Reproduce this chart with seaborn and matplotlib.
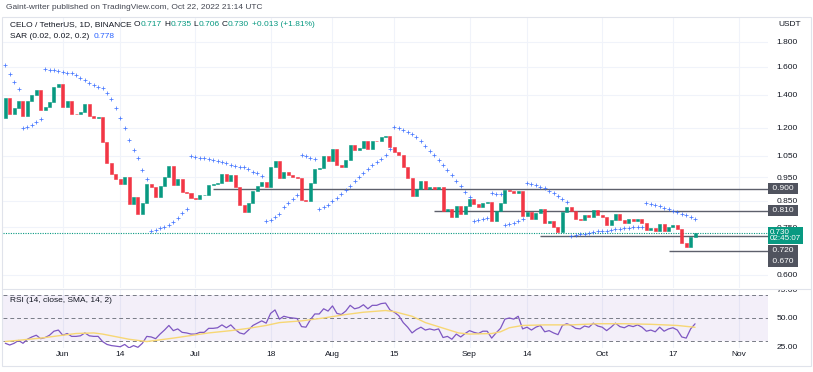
import matplotlib
matplotlib.use("Agg")
import numpy as np
import pandas as pd
import matplotlib.pyplot as plt
import matplotlib.dates as mdates
from matplotlib.ticker import NullLocator
from matplotlib.patches import Rectangle
from matplotlib.lines import Line2D
from matplotlib.transforms import Bbox, TransformedBbox
import seaborn as sns

# CELO / USDT daily, 2022-05-19 .. 2022-10-22
start_day = "2022-05-19"
first_open = 1.256
closes = [
    1.380, 1.280, 1.316, 1.361, 1.268, 1.361, 1.400, 1.433, 1.304, 1.322,
    1.354, 1.454, 1.475, 1.322, 1.361, 1.280, 1.277, 1.292, 1.341, 1.268,
    1.256, 1.259, 1.122, 1.016, 0.965, 0.942, 0.920, 0.951, 0.837, 0.865,
    0.799, 0.841, 0.920, 0.907, 0.865, 0.911, 0.951, 1.001, 0.916, 0.942,
    0.886, 0.882, 0.861, 0.857, 0.873, 0.875, 0.916, 0.918, 0.924, 0.965,
    0.933, 0.960, 0.907, 0.833, 0.806, 0.841, 0.890, 0.911, 0.929, 0.907,
    0.997, 1.025, 0.946, 0.974, 0.960, 0.951, 0.946, 0.853, 0.849, 0.924,
    0.988, 0.990, 1.050, 1.025, 1.085, 1.006, 0.997, 1.030, 1.106, 1.080,
    1.090, 1.127, 1.085, 1.127, 1.124, 1.148, 1.154, 1.095, 1.070, 1.055,
    0.997, 0.946, 0.869, 0.898, 0.933, 0.898, 0.907, 0.898, 0.907, 0.810,
    0.818, 0.788, 0.829, 0.799, 0.829, 0.857, 0.837, 0.825, 0.841, 0.843,
    0.772, 0.810, 0.841, 0.894, 0.888, 0.882, 0.890, 0.791, 0.806, 0.780,
    0.802, 0.818, 0.765, 0.772, 0.751, 0.734, 0.806, 0.825, 0.810, 0.780,
    0.776, 0.795, 0.788, 0.814, 0.795, 0.788, 0.758, 0.776, 0.799, 0.776,
    0.765, 0.780, 0.772, 0.780, 0.765, 0.741, 0.748, 0.737, 0.762, 0.737,
    0.751, 0.758, 0.744, 0.696, 0.684, 0.717, 0.730,
]
sar = [
    1.613, 1.543, 1.490, 1.442, 1.200, 1.204, 1.215, 1.231, 1.250, 1.582,
    1.577, 1.573, 1.568, 1.560, 1.555, 1.551, 1.538, 1.519, 1.502, 1.484,
    1.468, 1.454, 1.445, 1.413, 1.374, 1.319, 1.254, 1.196, 1.132, 1.080,
    1.039, 0.983, 0.942, 0.735, 0.741, 0.746, 0.752, 0.759, 0.769, 0.783,
    0.801, 0.818, 1.050, 1.046, 1.041, 1.039, 1.034, 1.029, 1.024, 1.019,
    1.014, 1.008, 1.003, 0.998, 0.995, 0.989, 0.975, 0.968, 0.955, 0.773,
    0.776, 0.786, 0.799, 0.824, 0.842, 0.858, 0.872, 1.056, 1.051, 1.041,
    1.035, 0.816, 0.824, 0.833, 0.848, 0.862, 0.878, 0.894, 0.911, 0.934,
    0.952, 0.970, 0.986, 1.005, 1.021, 1.037, 1.053, 1.084, 1.202, 1.196,
    1.187, 1.178, 1.165, 1.146, 1.124, 1.101, 1.075, 1.052, 1.030, 1.006,
    0.983, 0.958, 0.933, 0.909, 0.886, 0.866, 0.773, 0.776, 0.780, 0.782,
    0.880, 0.879, 0.877, 0.757, 0.762, 0.766, 0.774, 0.781, 0.926, 0.920,
    0.914, 0.908, 0.903, 0.891, 0.880, 0.869, 0.856, 0.843, 0.721, 0.723,
    0.726, 0.728, 0.731, 0.734, 0.735, 0.736, 0.738, 0.741, 0.743, 0.745,
    0.746, 0.748, 0.750, 0.751, 0.752, 0.840, 0.837, 0.833, 0.827, 0.821,
    0.816, 0.810, 0.804, 0.799, 0.793, 0.787, 0.778,
]
rsi = [
    28, 26.5, 28, 30.5, 28, 31.5, 33.5, 35, 32, 33,
    35, 38.5, 39.5, 35, 36.5, 34, 34, 34.5, 37, 34.5,
    34, 34, 29.5, 27, 26, 25.5, 25, 27, 24, 26,
    24.5, 28, 34, 33.5, 32, 36, 39.5, 43.5, 39, 40.5,
    37.5, 37, 36, 36, 37.5, 37.5, 41, 41, 41.5, 44,
    41.5, 44, 40, 37, 36, 39.5, 43.5, 45.5, 47.5, 45.5,
    54, 57, 49, 51.5, 50.5, 50, 49.5, 42.5, 42, 48.5,
    53.5, 53.5, 58, 56, 60.5, 54, 53, 56, 61, 58,
    59, 61.5, 58, 61, 61, 62.5, 63, 57, 55, 52,
    46, 42, 37, 40, 42, 39.5, 40.5, 39.5, 40.5, 33,
    34, 31.5, 36, 33.5, 36.5, 39, 37.5, 36.5, 38.5, 38.5,
    32.5, 37, 41, 49, 50, 49, 51.5, 40.5, 42, 39.5,
    42, 43.5, 38, 39, 37, 35.5, 43.5, 45, 43.5, 41,
    40.5, 43, 42, 45.5, 43, 42, 39, 42, 45.5, 42.5,
    41.5, 43.5, 42.5, 44, 42, 38.5, 39.5, 38, 42, 38.5,
    40.5, 41.5, 39.5, 33.5, 32.5, 40.5, 44.92,
]
# RSI-based SMA, read at a set of days (offset from start_day)
sma_day = [0, 8, 16, 20, 22, 28, 32, 38, 46, 51, 55, 59, 62, 67, 72, 77, 81, 86,
           88, 92, 95, 100, 102.5, 105, 110, 112, 114, 117, 122, 128, 134, 140,
           146, 152, 156]
sma_val = [29.5, 32.5, 36.5, 37, 36, 31.5, 29.5, 32.5, 37, 39, 41, 43.5, 46, 47.5,
           50, 53, 55, 56.5, 55.5, 51.5, 46, 40, 37, 36, 36.5, 38, 41.5, 43.5, 44,
           44, 45, 45, 44.5, 43.5, 41.91]

levels = [0.900, 0.810, 0.720, 0.670]
level_from = ["2022-07-05", "2022-08-24", "2022-09-17", "2022-10-16"]

price_ticks = [1.8, 1.6, 1.4, 1.2, 1.05, 0.95, 0.85, 0.75, 0.6]
rsi_ticks = [25, 50, 75]
date_ticks = ["2022-06-01", "2022-06-14", "2022-07-01", "2022-07-18", "2022-08-01",
              "2022-08-15", "2022-09-01", "2022-09-14", "2022-10-01", "2022-10-17",
              "2022-11-01"]
date_labels = ["Jun", "14", "Jul", "18", "Aug", "15", "Sep", "14", "Oct", "17", "Nov"]

UP, DOWN = "#089981", "#f23645"
SAR_BLUE = "#2962ff"
RSI_PURPLE = "#7e57c2"
SMA_YELLOW = "#f7d774"
TAG_GREY = "#50535e"
INK = "#131722"
GRID = "#f0f3fa"

sns.set_theme(style="white")
plt.rcParams["font.family"] = ["Liberation Sans", "DejaVu Sans"]

W, H = 813, 372
fig = plt.figure(figsize=(W / 100, H / 100), dpi=100)


def px_rect(x0, y0, x1, y1):
    return [x0 / W, 1 - y1 / H, (x1 - x0) / W, (y1 - y0) / H]


ax = fig.add_axes(px_rect(3, 17, 768, 288))
ax_rsi = fig.add_axes(px_rect(3, 289, 768, 348), sharex=ax)

days = mdates.date2num(pd.date_range(start_day, periods=len(closes), freq="D"))
c = np.array(closes)
o = np.r_[first_open, c[:-1]]
col = np.where(c >= o, UP, DOWN)

# price pane
ax.set_yscale("log")
ax.bar(days, np.abs(c - o), bottom=np.minimum(o, c), width=0.68,
       color=col, edgecolor=col, linewidth=0.4, zorder=3)
ax.plot(days, sar, ls="none", marker="+", ms=2.2, mew=0.55, color=SAR_BLUE, alpha=0.85, zorder=4)

x_left = days[0] - 0.52
x_right = days[0] + 172.5
for lvl, d0 in zip(levels, level_from):
    ax.hlines(lvl, mdates.date2num(pd.Timestamp(d0)), x_right, color="#5d606b", lw=1.0, zorder=2)
ax.axhline(c[-1], color=UP, lw=0.8, ls=(0, (1, 1.2)), zorder=2)
ax.set_xlim(x_left, x_right)
ax.set_ylim(0.563, 2.022)

tick_x = mdates.date2num(pd.to_datetime(date_ticks))
ax.set_xticks(tick_x)
ax.set_yticks(price_ticks)
ax.yaxis.set_minor_locator(NullLocator())
ax.set_yticklabels([f"{t:.3f}" for t in price_ticks])
ax.yaxis.tick_right()
ax.tick_params(axis="y", length=0, pad=6, labelsize=6, labelcolor=INK)
ax.tick_params(axis="x", length=0, labelbottom=False)
ax.grid(True, color=GRID, lw=0.8)
for s in ax.spines.values():
    s.set_visible(False)

# RSI pane
ax_rsi.axhspan(30, 70, color=RSI_PURPLE, alpha=0.09, lw=0)
for lv in (70, 50, 30):
    ax_rsi.axhline(lv, color="#787b86", lw=0.7, ls=(0, (4, 3)))
sns.lineplot(x=days, y=rsi, ax=ax_rsi, color=RSI_PURPLE, lw=0.9)
sns.lineplot(x=days[0] + np.array(sma_day), y=sma_val, ax=ax_rsi, color=SMA_YELLOW, lw=1.0)
ax_rsi.set_ylim(23.9, 75.2)
ax_rsi.set_yticks(rsi_ticks)
ax_rsi.set_yticklabels([f"{t:.2f}" for t in rsi_ticks])
ax_rsi.yaxis.tick_right()
ax_rsi.set_xticks(tick_x)
ax_rsi.set_xticklabels(date_labels)
ax_rsi.tick_params(axis="both", length=0, labelsize=6, labelcolor=INK)
ax_rsi.tick_params(axis="x", pad=2.5)
ax_rsi.tick_params(axis="y", pad=6)
ax_rsi.grid(axis="x", color=GRID, lw=0.8)
ax_rsi.set_xlabel("")
ax_rsi.set_ylabel("")
ax_rsi.set_xlim(x_left, x_right)
for s in ax_rsi.spines.values():
    s.set_visible(False)

# the 75.00 label is cut by the pane top, as in the screenshot
pane_clip = TransformedBbox(Bbox([[0, 0], [1, 1 - 289 / H]]), fig.transFigure)
for lab in ax_rsi.get_yticklabels():
    lab.set_clip_box(pane_clip)
    lab.set_clip_on(True)

# frame and pane separator
fig.patches.append(Rectangle((2 / W, 1 - 366 / H), 809 / W, 349 / H, transform=fig.transFigure,
                             fill=False, ec="#e0e3eb", lw=0.8))
fig.add_artist(Line2D([3 / W, 811 / W], [1 - 288.5 / H] * 2, color="#e0e3eb", lw=0.8))


def text_row(x_px, y_px, pieces, size=6):
    gap, s, colr = pieces[0]
    t = fig.text(x_px / W, 1 - y_px / H, s, color=colr, fontsize=size, va="center", ha="left")
    for gap, s, colr in pieces[1:]:
        t = ax.annotate(s, xy=(1, 0.5), xycoords=t, xytext=(gap * 0.72, 0),
                        textcoords="offset points", va="center", ha="left",
                        color=colr, fontsize=size, annotation_clip=False)


fig.text(6 / W, 1 - 7.5 / H, "Gaint-writer published on TradingView.com, Oct 22, 2022 21:14 UTC",
         fontsize=6, color="#434651", va="center")
text_row(10, 24.5, [(0, "CELO / TetherUS, 1D, BINANCE", INK), (2.5, "O", INK), (0, "0.717", UP),
                    (2.5, "H", INK), (0, "0.735", UP), (2.5, "L", INK), (0, "0.706", UP),
                    (2.5, "C", INK), (0, "0.730", UP), (2.5, "+0.013 (+1.81%)", UP)])
text_row(10, 36.5, [(0, "SAR (0.02, 0.02, 0.2)", INK), (4, "0.778", SAR_BLUE)])
text_row(10, 301, [(0, "RSI (14, close, SMA, 14, 2)", INK), (4, "44.92", RSI_PURPLE),
                   (4, "41.91", SMA_YELLOW), (4, "\u2205 \u2205", INK)])
fig.text(778 / W, 1 - 25 / H, "USDT", fontsize=6, color=INK, va="center")


def price_tag(value, label, face, dy_px, va="center", size=6, ls=1.2, pad=0.25):
    ax.annotate(label, xy=(1, value), xycoords=ax.get_yaxis_transform(),
                xytext=(1.5, dy_px * 0.72), textcoords="offset points", ha="left", va=va,
                fontsize=size, color="white", linespacing=ls,
                bbox=dict(boxstyle=f"square,pad={pad}", fc=face, ec="none"),
                annotation_clip=False, zorder=10)


price_tag(0.900, " 0.900 ", TAG_GREY, 0)
price_tag(0.810, " 0.810 ", TAG_GREY, 0)
price_tag(0.730, "0.730\n02:45:07", UP, 4.2, va="top", size=5.8, ls=0.95, pad=0.2)
price_tag(0.720, " 0.720 ", TAG_GREY, -14.8)
price_tag(0.670, " 0.670 ", TAG_GREY, -10.3)

fig.savefig("out.png", dpi=100)
